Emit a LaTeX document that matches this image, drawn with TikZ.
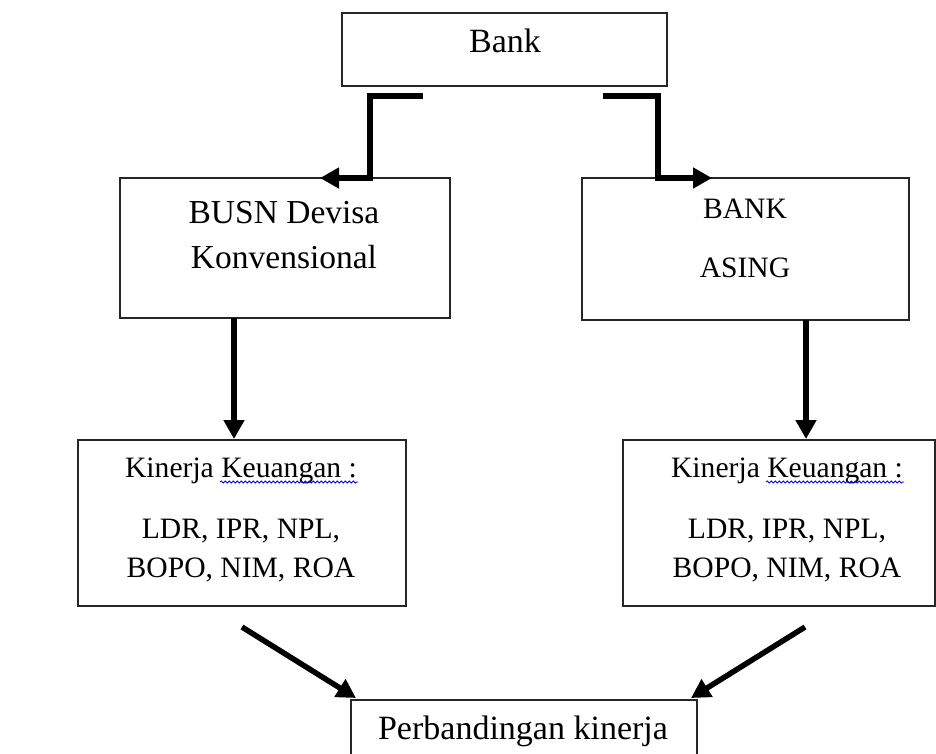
\documentclass[tikz,border=0pt]{standalone}
\usepackage{fontspec}
\setmainfont{Liberation Serif}
\usetikzlibrary{arrows.meta,decorations.pathmorphing}
\begin{document}
\begin{tikzpicture}[x=1pt,y=-1pt,
  box/.style={draw=black!85, line width=1.3pt, inner sep=0pt, outer sep=0pt},
  bigtxt/.style={anchor=base, inner sep=0pt, font=\fontsize{34}{40}\selectfont},
  midtxt/.style={anchor=base, inner sep=0pt, font=\fontsize{33.5}{40}\selectfont},
  smltxt/.style={anchor=base, inner sep=0pt, font=\fontsize{29.6}{36}\selectfont},
  conn/.style={line width=5.5pt, line join=miter, -{Triangle[length=19pt,width=20pt]}},
  wavy/.style={draw=blue!90!black, line width=0.8pt, decorate,
    decoration={snake, segment length=4pt, amplitude=1.1pt}}]
\useasboundingbox (0,0) rectangle (936,753);
\clip (0,0) rectangle (936,753);
\fill[white] (0,0) rectangle (936,753);

% boxes
\node[box, minimum width=325pt, minimum height=73pt] (bank) at (504.5,49.5) {};
\node[box, minimum width=330pt, minimum height=140pt] (busn) at (285,248) {};
\node[box, minimum width=327pt, minimum height=142pt] (asing) at (745.5,249) {};
\node[box, minimum width=328pt, minimum height=166pt] (kinL) at (242,523) {};
\node[box, minimum width=312pt, minimum height=166pt] (kinR) at (779,523) {};
\node[box, minimum width=346pt, minimum height=70pt] (perb) at (524,735) {};

% texts
\node[bigtxt] (tbank) at (505,52) {Bank};
\node[midtxt] (tbusn1) at (284,223) {BUSN Devisa};
\node[midtxt] (tbusn2) at (284,268) {Konvensional};
\node[smltxt] (tasing1) at (745,218) {BANK};
\node[smltxt] (tasing2) at (745,277) {ASING};
\node[smltxt] (tkL1) at (241,477) {Kinerja Keuangan :};
\node[smltxt] (tkL2) at (241,538) {LDR, IPR, NPL,};
\node[smltxt] (tkL3) at (241,577) {BOPO, NIM, ROA};
\node[smltxt] (tkR1) at (787,477) {Kinerja Keuangan :};
\node[smltxt] (tkR2) at (787,538) {LDR, IPR, NPL,};
\node[smltxt] (tkR3) at (787,577) {BOPO, NIM, ROA};
\node[bigtxt] (tperb) at (523,739) {Perbandingan kinerja};

% spell-check underlines
\draw[wavy] (220,482) -- (358,482);
\draw[wavy] (766,482) -- (904,482);

% named coordinates for connector ends
\coordinate (eLs) at (423,96);
\coordinate (eLc) at (370,96);
\coordinate (eLt) at (320,178);
\coordinate (eRs) at (603,96);
\coordinate (eRc) at (658,96);
\coordinate (eRt) at (712,178);
\coordinate (vL) at (234,0);
\coordinate (vR) at (806,0);
\coordinate (dLs) at (242,627);
\coordinate (dRs) at (805,627);

% connectors
\draw[conn] (eLs) -- (eLc) |- (busn.north -| eLt);
\draw[conn] (eRs) -- (eRc) |- (asing.north -| eRt);
\draw[conn] (busn.south -| vL) -- ([yshift=1pt]kinL.north -| vL);
\draw[conn] (asing.south -| vR) -- ([yshift=1pt]kinR.north -| vR);
\draw[conn] (dLs) -- ([xshift=5pt,yshift=2pt]perb.north west);
\draw[conn] (dRs) -- ([xshift=-6pt,yshift=2pt]perb.north east);
\end{tikzpicture}
\end{document}
